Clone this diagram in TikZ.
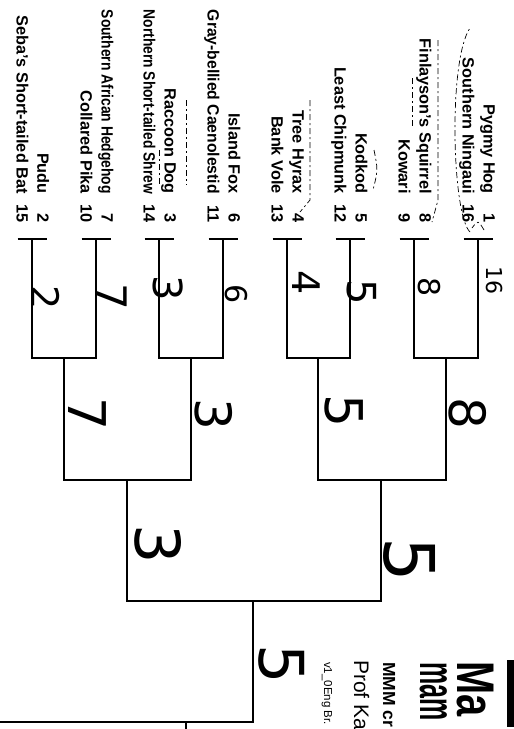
\documentclass[tikz,border=0pt]{standalone}
\usepackage{graphicx}
\usepackage{fontspec}
\setmainfont{Liberation Sans}
\newfontfamily\titlefont[FakeStretch=0.75]{Liberation Sans}
\newfontfamily\subtfont[FakeStretch=0.5]{Liberation Sans}
\newfontfamily\handfont{DejaVu Sans}
\newsavebox\namebx
\newcommand\fitname[1]{\sbox\namebx{#1}%
  \ifdim\wd\namebx>184pt\resizebox{184pt}{\height}{\usebox\namebx}\else\usebox\namebx\fi}
\begin{document}
\begin{tikzpicture}[x=1pt,y=-1pt,
  br/.style={line width=1.8pt},
  barst/.style={line width=2.6pt},
  entry/.style={rotate=-90, anchor=base east, inner sep=0pt, font=\bfseries\fontsize{16.3}{18}\selectfont},
  hand/.style={rotate=-90, inner sep=0pt, font=\handfont\fontsize{#1}{#1}\selectfont},
  hand/.default=40,
  pencil/.style={line width=0.7pt, dash pattern=on 6pt off 3pt on 2pt off 3pt},
  ttl/.style={rotate=-90, anchor=base west, inner sep=0pt}]
\useasboundingbox (0,0) rectangle (514,729);
\fill[white] (0,0) rectangle (514,729);

% stubs
\coordinate (s1) at (478,239);
\coordinate (s2) at (414,239);
\coordinate (s3) at (350,239);
\coordinate (s4) at (287,239);
\coordinate (s5) at (223,239);
\coordinate (s6) at (159,239);
\coordinate (s7) at (96,239);
\coordinate (s8) at (32,239);
% junctions
\coordinate (r1) at (446,358);
\coordinate (r2) at (318,358);
\coordinate (r3) at (191,358);
\coordinate (r4) at (64,358);
\coordinate (q1) at (381,480);
\coordinate (q2) at (127,480);
\coordinate (f) at (253,601);
\coordinate (fin) at (0,722);
\coordinate (tk) at (186,722);

% entries (names and seeds)
\foreach \nm/\sd/\xb [count=\i] in {
  Pygmy Hog/1/483.5, Southern Ningaui/16/462.5,
  Finlayson's Squirrel/8/419.5, Kowari/9/398.5,
  Kodkod/5/355.5, Least Chipmunk/12/334.5,
  Tree Hyrax/4/292.5, Bank Vole/13/271.5,
  Island Fox/6/228.5, Gray-bellied Caenolestid/11/207.5,
  Raccoon Dog/3/164.5, Northern Short-tailed Shrew/14/143.5,
  Southern African Hedgehog/7/101.5, Collared Pika/10/80.5,
  Pudu/2/37.5, Seba's Short-tailed Bat/15/16.5}{
  \node[entry] (n\i) at (\xb,194) {\fitname{\nm}};
  \node[entry] (d\i) at (\xb,223) {\sd};
}

% stub bars
\foreach \s in {s1,s2,s3,s4,s5,s6,s7,s8}
  \draw[barst] ([xshift=-14.5pt]\s) -- ([xshift=14.5pt]\s);

% bracket lines
\draw[br] (s1) -- (s1 |- r1) -- (s2 |- r1) -- (s2);
\draw[br] (s3) -- (s3 |- r2) -- (s4 |- r2) -- (s4);
\draw[br] (s5) -- (s5 |- r3) -- (s6 |- r3) -- (s6);
\draw[br] (s7) -- (s7 |- r4) -- (s8 |- r4) -- (s8);
\draw[br] (r1) -- (r1 |- q1) -- (r2 |- q1) -- (r2);
\draw[br] (r3) -- (r3 |- q2) -- (r4 |- q2) -- (r4);
\draw[br] (q1) -- (q1 |- f) -- (q2 |- f) -- (q2);
\draw[br] (f) -- (f |- fin) -- (fin);
\draw[br] (tk) -- ++(0,8);

% handwritten picks
\node[hand=22] (h1) at (495,280) {16};
\node[hand=30] (h2) at (429,287) {8};
\node[hand=40] (h3) at (362,292) {5};
\node[hand=38] (h4) at (306,283) {4};
\node[hand=50] (h5) at (468,413) {8};
\node[hand=52] (h6) at (344,411) {5};
\node[hand=70] (h7) at (410,560) {5};
\node[hand=62] (h8) at (282,664) {5};
\node[hand=38] (h9) at (46,298) {2};
\node[hand=42] (h10) at (112,297) {7};
\node[hand=40] (h11) at (168,288) {3};
\node[hand=30] (h12) at (236,294) {6};
\node[hand=52] (h13) at (87,414) {7};
\node[hand=50] (h14) at (214,414) {3};
\node[hand=62] (h15) at (158,544) {3};

% pencil marks
\draw[pencil] (470,232) .. controls (452,215) and (448,60) .. (470,28);
\draw[pencil] (484,230) .. controls (478,220) .. (472,228);
\draw[pencil] (438,40) -- (438,200) -- (432,222);
\draw[pencil] (412,78) -- (412,128);
\draw[pencil] (374,150) .. controls (378,170) .. (373,190);
\draw[pencil] (310,100) -- (310,200) -- (300,212);
\draw[pencil] (186,100) -- (186,185);
\draw[pencil] (159,150) -- (159,185);

% title block (cut off)
\fill (507,660) rectangle (515,727);
\node[ttl, font=\titlefont\bfseries\fontsize{53}{53}\selectfont] (t1) at (457,661) {Ma};
\node[ttl, font=\subtfont\bfseries\fontsize{50}{50}\selectfont] (t2) at (420,662) {mam};
\node[ttl, font=\bfseries\fontsize{17.5}{17.5}\selectfont] (t3) at (383,662) {MMM cr};
\node[ttl, font=\fontsize{21}{21}\selectfont] (t4) at (354,660) {Prof Ka};
\node[ttl, font=\fontsize{11.5}{11.5}\selectfont] (t5) at (324,662) {v1\_0Eng Br.};
\end{tikzpicture}
\end{document}
